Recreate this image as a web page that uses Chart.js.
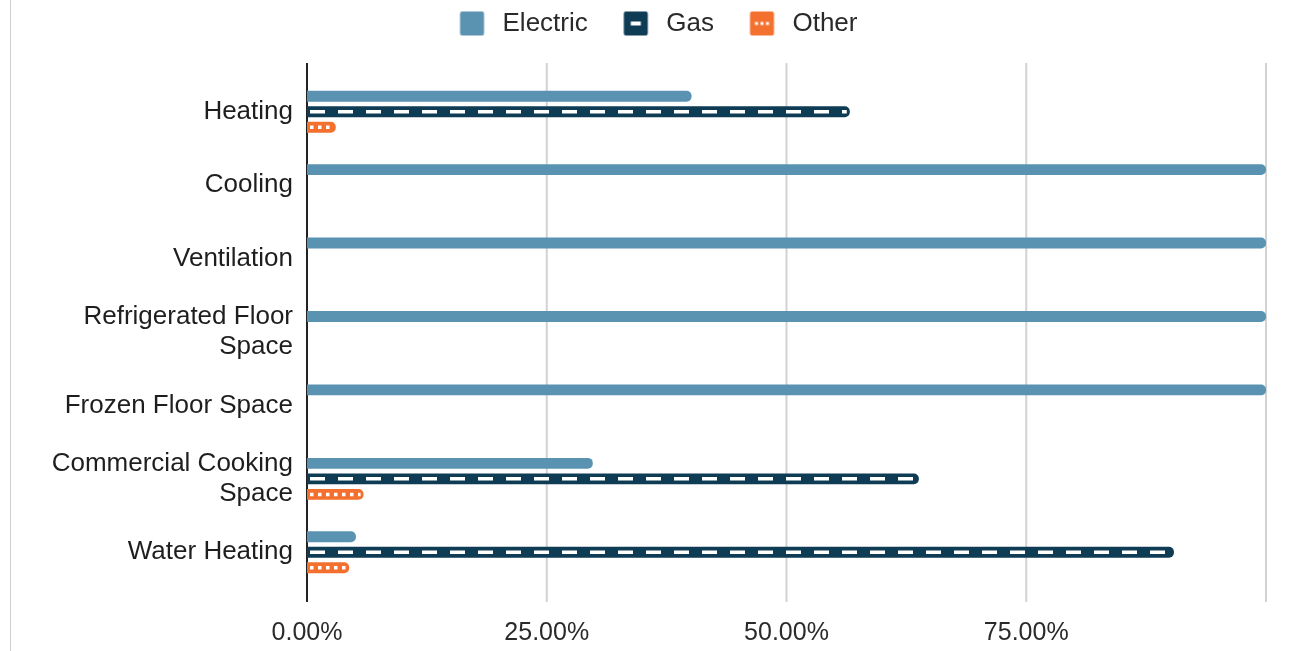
<!DOCTYPE html>
<html>
<head>
<meta charset="utf-8">
<script src="https://cdn.jsdelivr.net/npm/chart.js@4.4.1/dist/chart.umd.min.js"></script>
<style>
  html, body { margin: 0; padding: 0; background: #fff; }
  #wrap { position: relative; width: 1306px; height: 651px; }
  #edge { position: absolute; left: 10px; top: 0; width: 1px; height: 651px; background: #cfcfcf; }
  #chart { position: absolute; left: 0; top: 0; }
</style>
</head>
<body>
<div id="wrap">
  <div id="edge"></div>
  <canvas id="chart" width="1306" height="651"></canvas>
</div>
<script>
// --- data ---
const categories = [
  "Heating",
  "Cooling",
  "Ventilation",
  ["Refrigerated Floor", "Space"],
  "Frozen Floor Space",
  ["Commercial Cooking", "Space"],
  "Water Heating",
];
const electricShare = [40.1, 100, 100, 100, 100, 29.8, 5.1];
const gasShare = [56.6, null, null, null, null, 63.8, 90.4];
const otherShare = [3.0, null, null, null, null, 5.9, 4.4];
const xTicks = [0, 25, 50, 75, 100];

const colors = {
  electric: "#5a92b2",
  gas: "#0e3c55",
  other: "#f4702f",
};

const FONT = "'Liberation Sans', Arial, sans-serif";

// legend icons (canvas point styles), square sits right of an empty lead-in
function legendIcon(kind) {
  const c = document.createElement("canvas");
  c.width = 55;
  c.height = 26;
  const g = c.getContext("2d");
  const x0 = 25.5, y0 = 1, s = 24;
  g.fillStyle = colors[kind];
  g.beginPath();
  g.roundRect(x0, y0, s, s, 2);
  g.fill();
  g.fillStyle = "#ffffff";
  if (kind === "gas") {
    g.fillRect(x0 + 7, y0 + 10, 10, 4);
  } else if (kind === "other") {
    for (let i = 0; i < 3; i++) g.fillRect(x0 + 5 + i * 5.5, y0 + 10.5, 3, 3);
  }
  return c;
}

// white dashes / dots through the gas and other bars
const barPatterns = {
  id: "barPatterns",
  afterDatasetsDraw(chart) {
    const ctx = chart.ctx;
    [[1, [15, 13]], [2, [3.5, 4.5]]].forEach(([di, dash]) => {
      const meta = chart.getDatasetMeta(di);
      meta.data.forEach((bar, i) => {
        if (chart.data.datasets[di].data[i] == null) return;
        const { x, y, base } = bar.getProps(["x", "y", "base"], true);
        ctx.save();
        ctx.strokeStyle = "#ffffff";
        ctx.lineWidth = 3.5;
        ctx.setLineDash(dash);
        ctx.beginPath();
        ctx.moveTo(base + 3, y);
        ctx.lineTo(x - 3, y);
        ctx.stroke();
        ctx.restore();
      });
    });
  },
};

// vertical grid that runs a little past the category bands
const tallGrid = {
  id: "tallGrid",
  beforeDatasetsDraw(chart) {
    const { ctx, chartArea, scales } = chart;
    scales.x.ticks.forEach((t, i) => {
      const px = scales.x.getPixelForTick(i);
      ctx.save();
      ctx.strokeStyle = t.value === 0 ? "#222222" : "#d2d2d2";
      ctx.lineWidth = 2;
      ctx.beginPath();
      ctx.moveTo(px, chartArea.top - 12);
      ctx.lineTo(px, chartArea.bottom + 13);
      ctx.stroke();
      ctx.restore();
    });
  },
};

const legendHeight = {
  id: "legendHeight",
  beforeInit(chart) {
    const fit = chart.legend.fit;
    chart.legend.fit = function () {
      fit.bind(chart.legend)();
      this.height = 75;
    };
  },
};

const icons = { Electric: legendIcon("electric"), Gas: legendIcon("gas"), Other: legendIcon("other") };

new Chart(document.getElementById("chart"), {
  type: "bar",
  data: {
    labels: categories,
    datasets: [
      { label: "Electric", data: electricShare, backgroundColor: colors.electric },
      { label: "Gas", data: gasShare, backgroundColor: colors.gas },
      { label: "Other", data: otherShare, backgroundColor: colors.other },
    ],
  },
  options: {
    indexAxis: "y",
    responsive: false,
    animation: false,
    categoryPercentage: 0.634,
    barPercentage: 0.7,
    borderRadius: 5,
    borderSkipped: "start",
    layout: { padding: { left: 26, right: 40, top: 0, bottom: 0 } },
    scales: {
      x: {
        min: 0,
        max: 100,
        afterBuildTicks: (scale) => {
          scale.ticks = xTicks.map((v) => ({ value: v }));
        },
        afterFit: (scale) => {
          scale.height = 62;
        },
        grid: { display: false, drawTicks: false },
        border: { display: false },
        ticks: {
          padding: 29,
          color: "#2a2a2a",
          font: { family: FONT, size: 25 },
          callback: (v) => (v === 100 ? "" : v.toFixed(2) + "%"),
        },
      },
      y: {
        afterFit: (scale) => {
          scale.width = 281;
        },
        grid: { display: false, drawTicks: false },
        border: { display: false },
        ticks: {
          padding: 14,
          color: "#1e1e1e",
          font: { family: FONT, size: 26, lineHeight: 1.15 },
        },
      },
    },
    plugins: {
      legend: {
        position: "top",
        labels: {
          usePointStyle: true,
          pointStyleWidth: 55,
          padding: 10.5,
          color: "#2a2a2a",
          font: { family: FONT, size: 26 },
          generateLabels: (chart) =>
            chart.data.datasets.map((ds, i) => ({
              text: ds.label,
              pointStyle: icons[ds.label],
              fontColor: "#2a2a2a",
              datasetIndex: i,
              hidden: false,
              lineWidth: 0,
            })),
        },
      },
      tooltip: { enabled: false },
    },
  },
  plugins: [legendHeight, tallGrid, barPatterns],
});
</script>
</body>
</html>
